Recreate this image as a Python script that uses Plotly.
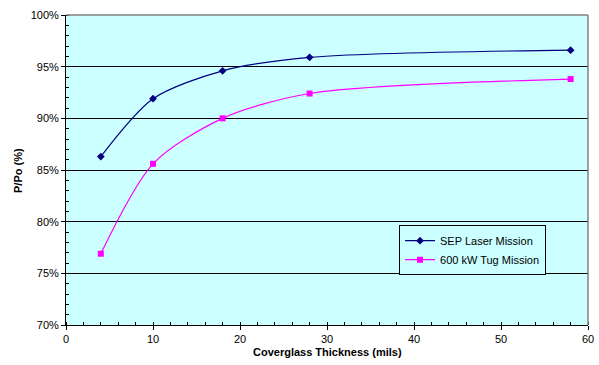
import plotly.graph_objects as go

thickness = [4, 10, 18, 28, 58]
sep_laser = [86.3, 91.9, 94.6, 95.9, 96.6]
tug_600kw = [76.9, 85.6, 90.0, 92.4, 93.8]

fig = go.Figure()
fig.add_trace(go.Scatter(
    x=thickness, y=sep_laser, name="SEP Laser Mission",
    mode="lines+markers", line=dict(color="#000080", width=1.2, shape="spline", smoothing=0.8),
    marker=dict(symbol="diamond", size=6, color="#000080")))
fig.add_trace(go.Scatter(
    x=thickness, y=tug_600kw, name="600 kW Tug Mission",
    mode="lines+markers", line=dict(color="#FF00FF", width=1.2, shape="spline", smoothing=0.8),
    marker=dict(symbol="square", size=6, color="#FF00FF")))

font = "Liberation Sans, Arial, sans-serif"
fig.update_layout(
    width=599, height=365,
    margin=dict(l=66, r=11, t=15, b=40),
    paper_bgcolor="white", plot_bgcolor="#CCFFFF",
    font=dict(family=font, size=11, color="black"),
    showlegend=True,
    legend=dict(x=0.638, y=0.322, xanchor="left", yanchor="top",
                bgcolor="#CCFFFF", bordercolor="black", borderwidth=1,
                font=dict(size=11), itemwidth=30),
    xaxis=dict(range=[0, 60], dtick=10, tick0=0, showgrid=False, zeroline=False,
               automargin=False,
               showline=True, linecolor="black", linewidth=1, mirror=False,
               ticks="outside", ticklen=4, tickcolor="black",
               minor=dict(dtick=2, ticks="inside", ticklen=3, tickcolor="black")),
    yaxis=dict(range=[70, 100], dtick=5, tick0=70, ticksuffix="%",
               automargin=False,
               showgrid=True, gridcolor="black", gridwidth=1, zeroline=False,
               showline=True, linecolor="black", linewidth=1,
               ticks="outside", ticklen=4, tickcolor="black",
               minor=dict(dtick=1, ticks="inside", ticklen=3, tickcolor="black", showgrid=False)),
    annotations=[
        dict(text="<b>Coverglass Thickness (mils)</b>", xref="paper", yref="paper",
             x=0.5, y=-0.088, xanchor="center", yanchor="middle", showarrow=False,
             font=dict(size=11)),
        dict(text="<b>P/Po (%)</b>", xref="paper", yref="paper",
             x=-0.092, y=0.5, xanchor="center", yanchor="middle", showarrow=False,
             textangle=-90, font=dict(size=11)),
    ],
)
# grey frame on top and right
fig.add_shape(type="line", xref="paper", yref="paper", x0=0, x1=1, y0=1, y1=1,
              line=dict(color="#808080", width=1.5))
fig.add_shape(type="line", xref="paper", yref="paper", x0=1, x1=1, y0=0, y1=1,
              line=dict(color="#808080", width=1.5))

fig.write_html("out.html")
